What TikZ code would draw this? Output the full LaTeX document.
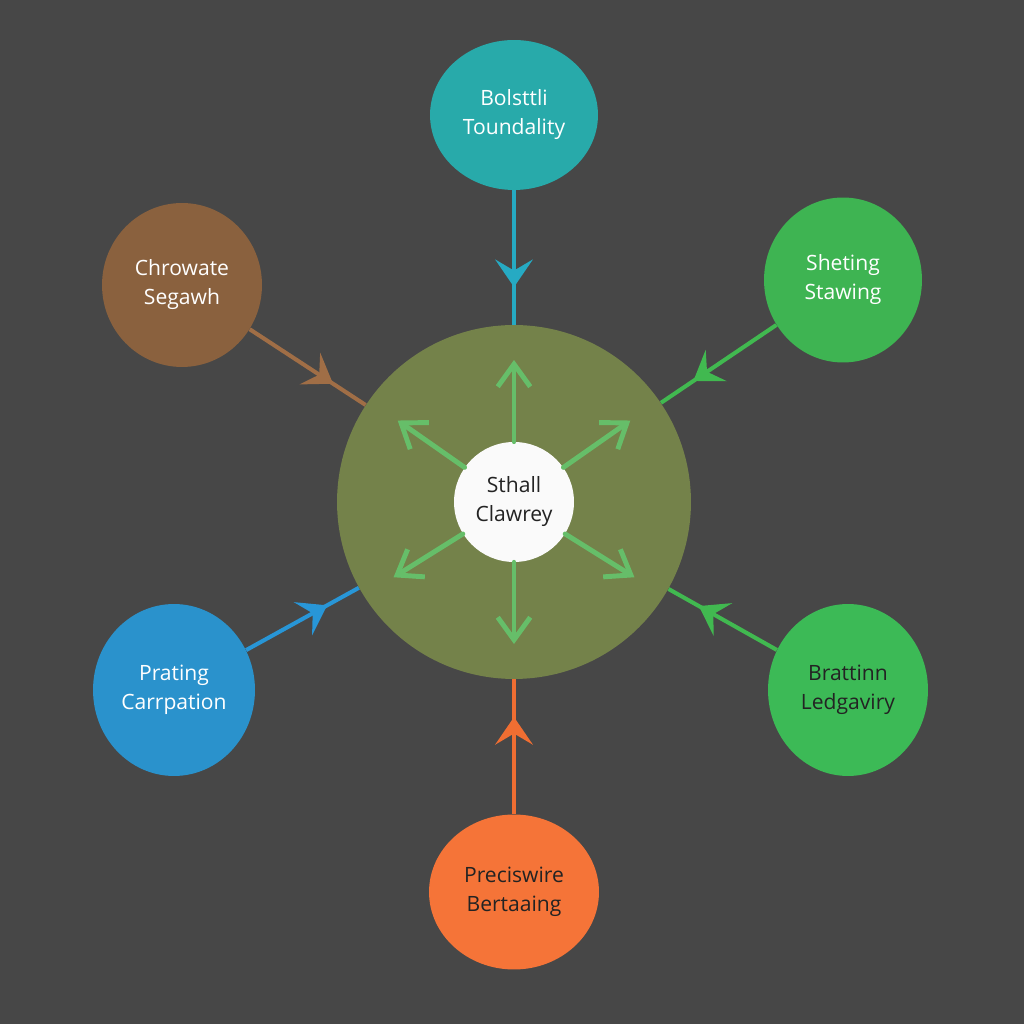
\documentclass[tikz,border=0pt]{standalone}
\usepackage{fontspec}
\setmainfont{Open Sans}
\usetikzlibrary{shapes.geometric, arrows.meta, decorations.markings, calc}

\definecolor{bgc}{RGB}{71,71,71}
\definecolor{hubc}{RGB}{116,130,74}
\definecolor{spokec}{RGB}{102,190,105}
\definecolor{tealc}{RGB}{40,170,170}
\definecolor{tealline}{RGB}{38,170,195}
\definecolor{brownc}{RGB}{138,97,62}
\definecolor{brownline}{RGB}{160,110,70}
\definecolor{greenc}{RGB}{62,180,82}
\definecolor{greenline}{RGB}{65,185,80}
\definecolor{bluec}{RGB}{42,146,204}
\definecolor{blueline}{RGB}{40,150,215}
\definecolor{greenb}{RGB}{60,186,86}
\definecolor{orangec}{RGB}{245,116,56}
\definecolor{orangeline}{RGB}{240,110,50}
\definecolor{darktext}{RGB}{35,35,35}

\begin{document}
\begin{tikzpicture}[
  x=0.02cm, y=0.02cm,
  font=\fontsize{12}{16.5}\selectfont,
  topic/.style={
    ellipse, inner sep=0pt, align=center, text=white
  },
  hubdisc/.style={circle, fill=hubc, inner sep=0pt, minimum size=7.08cm},
  coredisc/.style={circle, fill=white!98!black, inner sep=0pt,
    minimum size=2.4cm, align=center, text=darktext},
  feed/.style={line width=2.3pt, postaction={decorate},
    decoration={markings, mark=at position 0.72 with
      {\arrow{Stealth[length=5.5mm,width=7.5mm,inset=2.2mm]}}}},
  spoke/.style={line width=2.8pt, draw=spokec, line cap=round,
    -{Straight Barb[length=4.5mm,width=6.5mm]}}
]
% background
\fill[bgc] (0,0) rectangle (1024,1024);
\useasboundingbox (0,0) rectangle (1024,1024);

% centre
\node[hubdisc] (hub) at (514,522) {};

% outer topics
\node[topic, fill=tealc, minimum width=3.36cm, minimum height=3.0cm]
  (top) at (514,909) {Bolsttli\\Toundality};
\node[topic, fill=brownc, minimum width=3.2cm, minimum height=3.28cm]
  (ul) at (182,739) {Chrowate\\Segawh};
\node[topic, fill=greenc, minimum width=3.16cm, minimum height=3.3cm]
  (ur) at (843,744) {Sheting\\Stawing};
\node[topic, fill=bluec, minimum width=3.24cm, minimum height=3.44cm]
  (ll) at (174,334) {Prating\\Carrpation};
\node[topic, fill=greenb, minimum width=3.2cm, minimum height=3.44cm, text=darktext]
  (lr) at (848,334) {Brattinn\\Ledgaviry};
\node[topic, fill=orangec, minimum width=3.4cm, minimum height=3.1cm, text=darktext]
  (bot) at (514,132) {Preciswire\\Bertaaing};

% connectors into the hub
\foreach \n/\c in {top/tealline, ul/brownline, ur/greenline,
                   ll/blueline, lr/greenline, bot/orangeline}
  \draw[feed, \c] (\n) -- (hub);

% inner spokes
\node[coredisc] (core) at (hub.center) {Sthall\\Clawrey};
\foreach \a in {90, 35, -32, -90, 212, 145}
  \coordinate (s\a) at ($(core.center)+(\a:142)$);
\foreach \a in {90, 35, -32, -90, 212, 145}
  \draw[spoke] (core) -- (s\a);
\end{tikzpicture}
\end{document}
